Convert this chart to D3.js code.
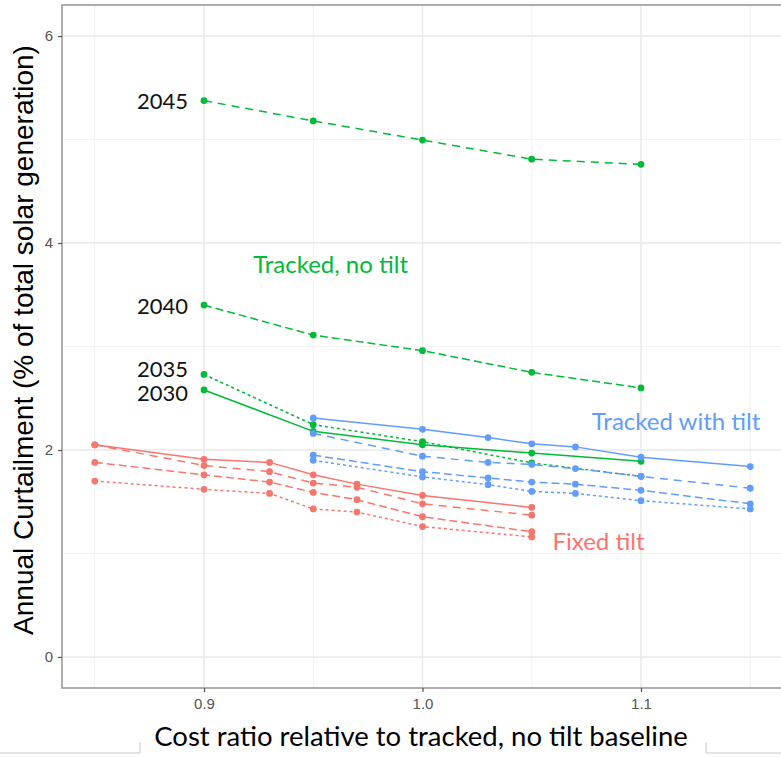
<!DOCTYPE html>
<html>
<head>
<meta charset="utf-8">
<script src="https://cdn.jsdelivr.net/npm/d3@7"></script>
<style>
  html, body { margin: 0; padding: 0; background: #ffffff; }
  svg { display: block; }
</style>
</head>
<body>
<script>
// Cost ratios at which each panel type was evaluated
const costRatioTracked = [0.9, 0.95, 1.0, 1.05, 1.1];
const costRatioFixed = [0.85, 0.9, 0.93, 0.95, 0.97, 1.0, 1.05];
const costRatioTilt = [0.95, 1.0, 1.03, 1.05, 1.07, 1.1, 1.15];

// Annual curtailment (% of total solar generation), tracked, no tilt
const tracked2030 = [2.58, 2.18, 2.05, 1.97, 1.89];
const tracked2035 = [2.73, 2.245, 2.08, 1.875, 1.745];
const tracked2040 = [3.40, 3.11, 2.96, 2.75, 2.60];
const tracked2045 = [5.376, 5.18, 4.995, 4.81, 4.76];

// Fixed tilt
const fixed2030 = [2.05, 1.91, 1.88, 1.76, 1.67, 1.56, 1.445];
const fixed2035 = [1.70, 1.62, 1.58, 1.43, 1.40, 1.26, 1.16];
const fixed2040 = [1.88, 1.76, 1.69, 1.59, 1.52, 1.355, 1.21];
const fixed2045 = [2.05, 1.85, 1.79, 1.68, 1.64, 1.48, 1.37];

// Tracked with tilt
const tilt2030 = [2.31, 2.20, 2.12, 2.06, 2.03, 1.93, 1.84];
const tilt2035 = [1.90, 1.74, 1.665, 1.60, 1.58, 1.51, 1.43];
const tilt2040 = [1.95, 1.79, 1.73, 1.69, 1.67, 1.61, 1.48];
const tilt2045 = [2.16, 1.94, 1.88, 1.86, 1.82, 1.745, 1.63];

const xTicks = [0.9, 1.0, 1.1];
const xMinorTicks = [0.85, 0.95, 1.05, 1.15];
const yTicks = [0, 2, 4, 6];
const yMinorTicks = [1, 3, 5];
const yearLabels = ["2045", "2040", "2035", "2030"];

const W = 781, H = 757;
const panel = { left: 62, right: 783, top: 5, bottom: 688 };

const colors = { fixed: "#F8766D", tracked: "#00BA38", tilt: "#619CFF" };
const dashByYear = { 2030: null, 2035: "3,3", 2040: "8,4", 2045: "8,6" };

const series = [
  { type: "tracked", year: 2030, x: costRatioTracked, y: tracked2030 },
  { type: "tracked", year: 2035, x: costRatioTracked, y: tracked2035 },
  { type: "tracked", year: 2040, x: costRatioTracked, y: tracked2040 },
  { type: "tracked", year: 2045, x: costRatioTracked, y: tracked2045 },
  { type: "fixed", year: 2030, x: costRatioFixed, y: fixed2030 },
  { type: "fixed", year: 2035, x: costRatioFixed, y: fixed2035 },
  { type: "fixed", year: 2040, x: costRatioFixed, y: fixed2040 },
  { type: "fixed", year: 2045, x: costRatioFixed, y: fixed2045 },
  { type: "tilt", year: 2030, x: costRatioTilt, y: tilt2030 },
  { type: "tilt", year: 2035, x: costRatioTilt, y: tilt2035 },
  { type: "tilt", year: 2040, x: costRatioTilt, y: tilt2040 },
  { type: "tilt", year: 2045, x: costRatioTilt, y: tilt2045 }
];

const xScale = d3.scaleLinear().domain([0.835, 1.165]).range([panel.left, panel.right]);
const yScale = d3.scaleLinear().domain([-0.3, 6.3]).range([panel.bottom, panel.top]);

const svg = d3.select("body").append("svg")
  .attr("width", W).attr("height", H)
  .attr("viewBox", `0 0 ${W} ${H}`);

svg.append("rect").attr("width", W).attr("height", H).attr("fill", "#ffffff");

const clipId = "panel-clip";
svg.append("clipPath").attr("id", clipId).append("rect")
  .attr("x", panel.left).attr("y", panel.top)
  .attr("width", panel.right - panel.left).attr("height", panel.bottom - panel.top);

// Grid: minor then major
const grid = svg.append("g");
grid.selectAll(".vminor").data(xMinorTicks).join("line")
  .attr("x1", d => xScale(d)).attr("x2", d => xScale(d))
  .attr("y1", panel.top).attr("y2", panel.bottom)
  .attr("stroke", "#f2f2f2").attr("stroke-width", 1);
grid.selectAll(".hminor").data(yMinorTicks).join("line")
  .attr("y1", d => yScale(d)).attr("y2", d => yScale(d))
  .attr("x1", panel.left).attr("x2", panel.right)
  .attr("stroke", "#f2f2f2").attr("stroke-width", 1);
grid.selectAll(".vmajor").data(xTicks).join("line")
  .attr("x1", d => xScale(d)).attr("x2", d => xScale(d))
  .attr("y1", panel.top).attr("y2", panel.bottom)
  .attr("stroke", "#e8e8e8").attr("stroke-width", 1.4);
grid.selectAll(".hmajor").data(yTicks).join("line")
  .attr("y1", d => yScale(d)).attr("y2", d => yScale(d))
  .attr("x1", panel.left).attr("x2", panel.right)
  .attr("stroke", "#e8e8e8").attr("stroke-width", 1.4);

// Data lines
const line = d3.line().x(d => xScale(d[0])).y(d => yScale(d[1]));
const marks = svg.append("g").attr("clip-path", `url(#${clipId})`);
series.forEach(s => {
  const pts = s.x.map((xv, i) => [xv, s.y[i]]);
  marks.append("path")
    .attr("d", line(pts))
    .attr("fill", "none")
    .attr("stroke", colors[s.type])
    .attr("stroke-width", 1.5)
    .attr("stroke-dasharray", dashByYear[s.year]);
});
series.forEach(s => {
  const pts = s.x.map((xv, i) => [xv, s.y[i]]);
  marks.selectAll(null).data(pts).join("circle")
    .attr("cx", d => xScale(d[0])).attr("cy", d => yScale(d[1]))
    .attr("r", 3.4)
    .attr("fill", colors[s.type]);
});

// Panel border
svg.append("rect")
  .attr("x", panel.left).attr("y", panel.top)
  .attr("width", panel.right - panel.left).attr("height", panel.bottom - panel.top)
  .attr("fill", "none").attr("stroke", "#9a9a9a").attr("stroke-width", 1.6);

// Axes
const xAxis = d3.axisBottom(xScale).tickValues(xTicks).tickFormat(d3.format(".1f")).tickSize(4).tickPadding(6);
const yAxis = d3.axisLeft(yScale).tickValues(yTicks).tickFormat(d3.format("d")).tickSize(4).tickPadding(5);

const gx = svg.append("g").attr("transform", `translate(0,${panel.bottom})`).call(xAxis);
const gy = svg.append("g").attr("transform", `translate(${panel.left},0)`).call(yAxis);
[gx, gy].forEach(g => {
  g.select(".domain").remove();
  g.selectAll(".tick line").attr("stroke", "#555").attr("stroke-width", 1.2);
  g.selectAll(".tick text")
    .attr("fill", "#555")
    .style("font-family", "'Liberation Sans Narrow', 'Liberation Sans', Arial, sans-serif")
    .style("font-size", "15px");
});

// Axis titles
svg.append("text")
  .attr("transform", `translate(33,340) rotate(-90)`)
  .attr("text-anchor", "middle")
  .style("font-family", "'Liberation Sans', Arial, sans-serif")
  .style("font-size", "28px")
  .attr("fill", "#000")
  .text("Annual Curtailment (% of total solar generation)");

svg.append("text")
  .attr("x", 421).attr("y", 746)
  .attr("text-anchor", "middle")
  .style("font-family", "Lato, 'Open Sans', sans-serif")
  .style("font-size", "27.5px")
  .attr("fill", "#000")
  .text("Cost ratio relative to tracked, no tilt baseline");

// Year labels beside the first tracked point of each year
const yearValue = { "2045": tracked2045[0], "2040": tracked2040[0], "2035": tracked2035[0], "2030": tracked2030[0] };
const yearNudge = { "2045": 1, "2040": 1, "2035": -5, "2030": 3 };
svg.selectAll(".year").data(yearLabels).join("text")
  .attr("x", xScale(costRatioTracked[0]) - 16)
  .attr("y", d => yScale(yearValue[d]) + yearNudge[d])
  .attr("dy", "0.35em")
  .attr("text-anchor", "end")
  .style("font-family", "Lato, 'Open Sans', sans-serif")
  .style("font-size", "22px")
  .attr("fill", "#111")
  .text(d => d);

// Group labels
const groupLabels = [
  { text: "Tracked, no tilt", x: 0.9225, y: 3.79, type: "tracked" },
  { text: "Tracked with tilt", x: 1.0775, y: 2.27, type: "tilt" },
  { text: "Fixed tilt", x: 1.0595, y: 1.11, type: "fixed" }
];
svg.selectAll(".glabel").data(groupLabels).join("text")
  .attr("x", d => xScale(d.x))
  .attr("y", d => yScale(d.y))
  .attr("dy", "0.35em")
  .style("font-family", "Lato, 'Open Sans', sans-serif")
  .style("font-size", "24px")
  .attr("fill", d => colors[d.type])
  .text(d => d.text);

// Frame edges along the lower margin
svg.append("path")
  .attr("d", "M0,753H140V742 M706,742V753H781")
  .attr("fill", "none").attr("stroke", "#c8c8c8").attr("stroke-width", 1);
</script>
</body>
</html>
